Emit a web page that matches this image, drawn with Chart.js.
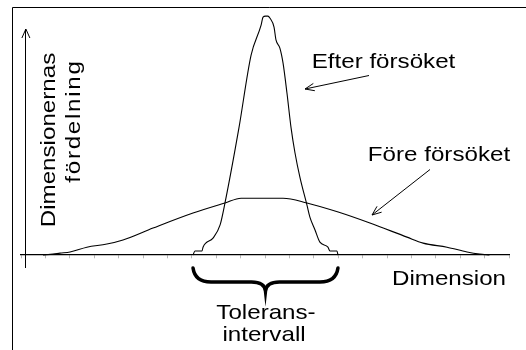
<!DOCTYPE html>
<html>
<head>
<meta charset="utf-8">
<script src="https://cdn.jsdelivr.net/npm/chart.js@4/dist/chart.umd.min.js"></script>
<style>
  html, body { margin: 0; padding: 0; background: #fff; }
  #wrap { width: 526px; height: 350px; }
</style>
</head>
<body>
<div id="wrap"><canvas id="dist" width="526" height="350"></canvas></div>
<script>
// Före försöket - wide distribution (dimension, share)
const foreX = [0.9, 1.31, 1.6, 2.01, 2.7, 3.52, 4.18, 5.41, 7.05, 8.36, 9.02, 10.74, 11.72, 13.0, 14.3, 15.82, 16.48, 17.46, 18.28, 18.8, 19.2];
const foreY = [0, 0.4, 0.8, 1.3, 3.3, 4.6, 6.3, 11.3, 17.6, 21.8, 23.8, 23.8, 21.8, 18.0, 13.4, 7.5, 5.0, 3.3, 1.3, 0.4, 0];

// Efter försöket - narrow distribution
const efterX = [7.05, 7.13, 7.42, 7.46, 7.87, 8.16, 8.36, 8.93, 9.43, 9.84, 9.92, 10.02, 10.12, 10.2, 10.37, 10.45, 10.61, 10.74, 10.9, 11.07, 11.23, 11.43, 11.72, 11.84, 12.05, 12.25, 12.58, 12.66, 12.95, 12.99];
const efterY = [0, 1.7, 1.7, 3.3, 7.1, 12.6, 21.8, 53.1, 83.7, 96.2, 99.6, 100, 100, 99.2, 95.4, 90, 86.6, 80.3, 67.8, 53.1, 42.7, 32.6, 20.9, 15.9, 10.5, 5.4, 3.3, 1.7, 1.7, 0];

// toleransintervall (start, end)
const tolerance = [7.05, 12.99];

const pts = (xs, ys) => xs.map((x, i) => ({ x: x, y: ys[i] }));

const FONT = '21px "Liberation Sans", Arial, sans-serif';
const STRETCH = 1.15;

function text(ctx, s, x, y, rot, spacing) {
  ctx.save();
  ctx.translate(x, y);
  if (rot) ctx.rotate(rot);
  ctx.scale(STRETCH, 1);
  ctx.font = FONT;
  ctx.fillStyle = '#000';
  ctx.textAlign = 'center';
  ctx.textBaseline = 'alphabetic';
  if (spacing) ctx.letterSpacing = spacing + 'px';
  ctx.fillText(s, 0, 0);
  ctx.restore();
}

function arrow(ctx, x1, y1, x2, y2) {
  const a = Math.atan2(y2 - y1, x2 - x1);
  const len = 10, spread = 0.38;
  ctx.beginPath();
  ctx.moveTo(x1, y1);
  ctx.lineTo(x2, y2);
  ctx.moveTo(x2 - len * Math.cos(a - spread), y2 - len * Math.sin(a - spread));
  ctx.lineTo(x2, y2);
  ctx.lineTo(x2 - len * Math.cos(a + spread), y2 - len * Math.sin(a + spread));
  ctx.stroke();
}

const notes = {
  id: 'notes',
  afterDraw(chart) {
    const ctx = chart.ctx;
    const xs = chart.scales.x, ys = chart.scales.y;
    ctx.save();
    ctx.strokeStyle = '#000';
    ctx.lineWidth = 1;

    // frame
    ctx.beginPath();
    ctx.moveTo(12.5, 350);
    ctx.lineTo(12.5, 7.5);
    ctx.lineTo(526, 7.5);
    ctx.stroke();

    // y axis arrow head
    const ax = xs.getPixelForValue(ys.options.position.x);
    const at = ys.top;
    ctx.beginPath();
    ctx.moveTo(ax - 4, at + 9);
    ctx.lineTo(ax, at);
    ctx.lineTo(ax + 4, at + 9);
    ctx.stroke();

    // pointer arrows
    arrow(ctx, 369, 75.5, 305, 89);
    arrow(ctx, 430, 169.5, 372, 215);

    // brace under tolerance interval
    const xL = xs.getPixelForValue(tolerance[0]);
    const xR = xs.getPixelForValue(tolerance[1]);
    const xm = (xL + xR) / 2;
    const yTop = 268, yMid = 282, yTip = 291;
    ctx.lineWidth = 3.5;
    ctx.lineCap = 'round';
    ctx.beginPath();
    ctx.moveTo(xL, yTop);
    ctx.quadraticCurveTo(xL + 2, yMid, xL + 18, yMid);
    ctx.lineTo(xm - 14, yMid);
    ctx.quadraticCurveTo(xm - 1, yMid, xm, yTip);
    ctx.quadraticCurveTo(xm + 1, yMid, xm + 14, yMid);
    ctx.lineTo(xR - 18, yMid);
    ctx.quadraticCurveTo(xR - 2, yMid, xR, yTop);
    ctx.stroke();
    ctx.restore();

    // labels
    text(ctx, 'Efter försöket', 383.5, 68);
    text(ctx, 'Före försöket', 439, 161);
    text(ctx, 'Dimension', 449, 285);
    text(ctx, 'Tolerans-', 266, 319);
    text(ctx, 'intervall', 264, 341);
    text(ctx, 'Dimensionernas', 55, 140, -Math.PI / 2);
    text(ctx, 'fördelning', 80, 121, -Math.PI / 2, 1.5);
  }
};

new Chart(document.getElementById('dist'), {
  type: 'line',
  data: {
    datasets: [
      {
        label: 'Före försöket',
        data: pts(foreX, foreY),
        borderColor: '#000',
        borderWidth: 1.1,
        pointRadius: 0,
        cubicInterpolationMode: 'monotone',
        clip: false
      },
      {
        label: 'Efter försöket',
        data: pts(efterX, efterY),
        borderColor: '#000',
        borderWidth: 1.1,
        pointRadius: 0,
        cubicInterpolationMode: 'monotone',
        clip: false
      }
    ]
  },
  options: {
    responsive: false,
    animation: false,
    layout: { padding: { left: 21, right: 17, top: 29, bottom: 83 } },
    plugins: { legend: { display: false }, tooltip: { enabled: false } },
    scales: {
      x: {
        type: 'linear',
        min: 0,
        max: 20,
        position: { y: 0 },
        grid: { drawOnChartArea: false, tickLength: 3, color: '#b8b8b8' },
        border: { color: '#000', width: 1.3 },
        ticks: { display: false, stepSize: 1 }
      },
      y: {
        min: -5,
        max: 94.6,
        position: { x: 0.2 },
        grid: { drawOnChartArea: false, drawTicks: false },
        border: { color: '#000', width: 1 },
        ticks: { display: false }
      }
    }
  },
  plugins: [notes]
});
</script>
</body>
</html>
